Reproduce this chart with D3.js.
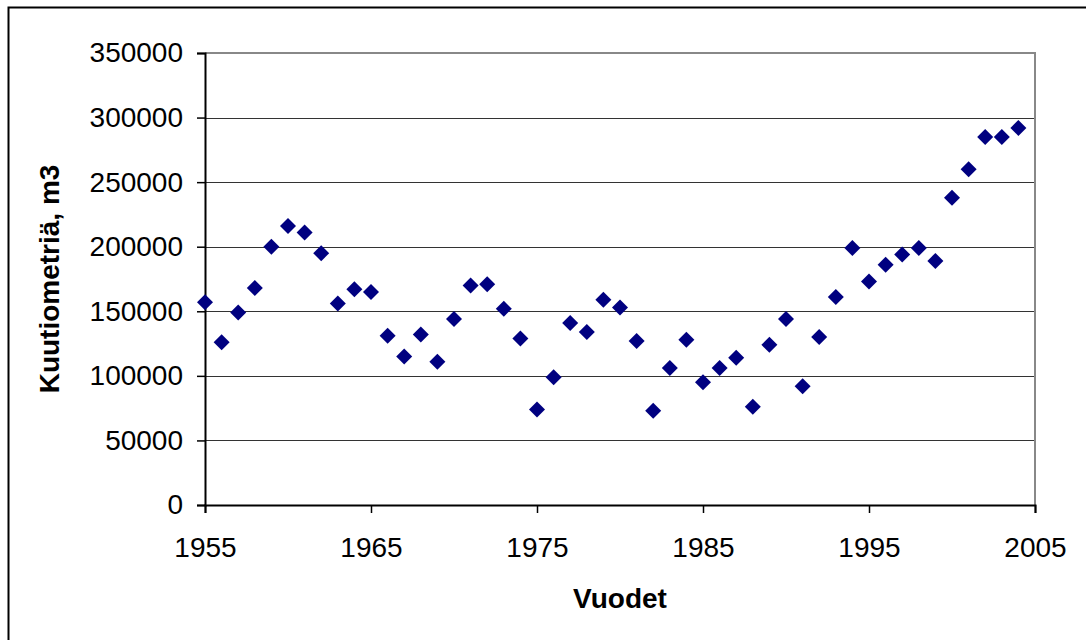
<!DOCTYPE html>
<html>
<head>
<meta charset="utf-8">
<script src="https://cdn.jsdelivr.net/npm/d3@7"></script>
<style>
  body { margin: 0; background: #fff; }
  text { font-family: "Liberation Sans", Arial, sans-serif; }
</style>
</head>
<body>
<div id="chart"></div>
<script>
const years = d3.range(1955, 2005);
const volumes = [
  157000, 126000, 149000, 168000, 200000, 216000, 211000, 195000, 156000, 167000,
  165000, 131000, 115000, 132000, 111000, 144000, 170000, 171000, 152000, 129000,
  74000, 99000, 141000, 134000, 159000, 153000, 127000, 73000, 106000, 128000,
  95000, 106000, 114000, 76000, 124000, 144000, 92000, 130000, 161000, 199000,
  173000, 186000, 194000, 199000, 189000, 238000, 260000, 285000, 285000, 292000
];
const yTicks = [0, 50000, 100000, 150000, 200000, 250000, 300000, 350000];
const xTicks = [1955, 1965, 1975, 1985, 1995, 2005];

const width = 1086, height = 640;
const margin = { top: 53, right: 51, bottom: 135, left: 205 };

const svg = d3.select("#chart").append("svg")
  .attr("width", width)
  .attr("height", height);

// outer chart frame (runs off the right and bottom edges)
svg.append("rect")
  .attr("x", 8.5).attr("y", 7.5)
  .attr("width", width + 20).attr("height", height + 20)
  .attr("fill", "none")
  .attr("stroke", "#000")
  .attr("stroke-width", 2);

const x = d3.scaleLinear()
  .domain([1955, 2005])
  .range([margin.left, width - margin.right]);

const y = d3.scaleLinear()
  .domain([0, 350000])
  .range([height - margin.bottom, margin.top]);

// gridlines
svg.append("g")
  .selectAll("line")
  .data(yTicks.slice(1))
  .join("line")
  .attr("x1", x(1955)).attr("x2", x(2005))
  .attr("y1", d => Math.round(y(d)) + 0.5)
  .attr("y2", d => Math.round(y(d)) + 0.5)
  .attr("stroke", "#333")
  .attr("stroke-width", 1);

// plot area border top/right
svg.append("path")
  .attr("d", `M${x(1955)},${y(350000)} H${x(2005)} V${y(0)}`)
  .attr("fill", "none")
  .attr("stroke", "#888")
  .attr("stroke-width", 2);

const yAxis = svg.append("g")
  .attr("transform", `translate(${x(1955)},0)`)
  .call(d3.axisLeft(y).tickValues(yTicks).tickSize(8).tickPadding(14).tickFormat(d3.format("d")));

const xAxis = svg.append("g")
  .attr("transform", `translate(0,${y(0)})`)
  .call(d3.axisBottom(x).tickValues(xTicks).tickSize(8).tickPadding(24).tickFormat(d3.format("d")));

[yAxis, xAxis].forEach(g => {
  g.select(".domain").attr("stroke", "#000").attr("stroke-width", 2);
  g.selectAll(".tick line").attr("stroke", "#000").attr("stroke-width", 1.5);
  g.selectAll(".tick text")
    .attr("fill", "#000")
    .style("font-size", "28px")
    .style("font-family", '"Liberation Sans", Arial, sans-serif');
});

// x ticks at minor years (none in reference besides labeled ones)

const diamond = d3.symbol().type(d3.symbolSquare).size(128);

svg.append("g")
  .selectAll("path")
  .data(years.map((yr, i) => ({ year: yr, value: volumes[i] })))
  .join("path")
  .attr("d", diamond)
  .attr("transform", d => `translate(${x(d.year)},${y(d.value)}) rotate(45)`)
  .attr("fill", "#000080");

svg.append("text")
  .attr("x", (x(1955) + x(2005)) / 2)
  .attr("y", 608)
  .attr("text-anchor", "middle")
  .style("font-size", "28px")
  .style("font-weight", "bold")
  .text("Vuodet");

svg.append("text")
  .attr("transform", `translate(59,${(y(0) + y(350000)) / 2}) rotate(-90)`)
  .attr("text-anchor", "middle")
  .style("font-size", "28px")
  .style("font-weight", "bold")
  .text("Kuutiometriä, m3");
</script>
</body>
</html>
